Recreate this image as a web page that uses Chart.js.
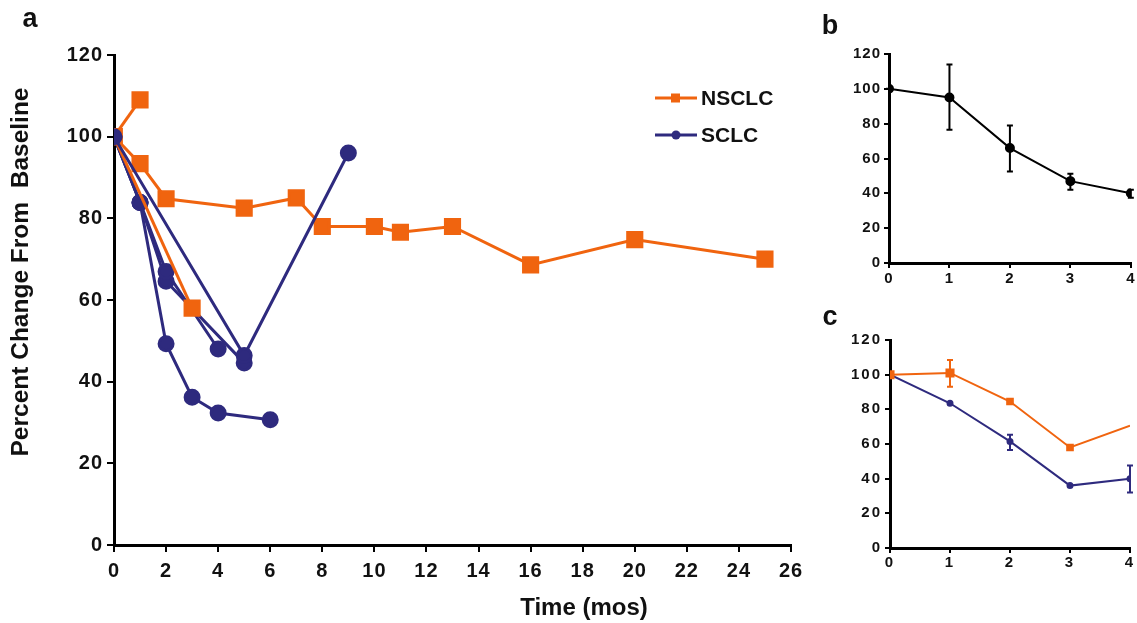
<!DOCTYPE html>
<html>
<head>
<meta charset="utf-8">
<script src="https://cdn.jsdelivr.net/npm/chart.js@4.4.1/dist/chart.umd.min.js"></script>
<style>
  body { margin: 0; background: #fff; width: 1137px; height: 623px; position: relative; overflow: hidden; }
  .box { position: absolute; }
</style>
</head>
<body>
<div class="box" style="left:0;top:0;width:810px;height:623px"><canvas id="panelA"></canvas></div>
<div class="box" style="left:820px;top:0;width:317px;height:300px"><canvas id="panelB"></canvas></div>
<div class="box" style="left:820px;top:300px;width:317px;height:323px"><canvas id="panelC"></canvas></div>
<script>
// panel a: individual patients, months vs percent of baseline
const nsclcMonths = [
  [0, 1],
  [0, 1, 2, 5, 7, 8, 10, 11, 13, 16, 20, 25],
  [0, 3],
];
const nsclcPct = [
  [100, 109],
  [100, 93.4, 84.8, 82.5, 85, 78, 78, 76.6, 78, 68.6, 74.8, 70],
  [100, 58],
];
const sclcMonths = [
  [0, 5, 9],
  [0, 1, 2, 3, 4, 6],
  [0, 1, 2, 4],
  [0, 1, 2, 5],
];
const sclcPct = [
  [100, 46.4, 96],
  [100, 83.9, 49.3, 36.2, 32.3, 30.7],
  [100, 83.9, 67, 48],
  [100, 83.9, 64.6, 44.6],
];

// panel b: mean with error bars
const bMonths = [0, 1, 2, 3, 4];
const bMean = [100, 95, 66, 47, 40];
const bHigh = [100, 114, 79, 51.2, 42];
const bLow = [100, 76.5, 52.5, 42, 37.5];

// panel c: mean by group
const cMonths = [0, 1, 2, 3, 4];
const cNsclc = [100, 101, 84.5, 58, 70.5];
const cNsclcHigh = [null, 108.5, null, null, null];
const cNsclcLow = [null, 93, null, null, null];
const cSclc = [100, 83.5, 61.5, 36, 40];
const cSclcHigh = [null, null, 65.3, null, 47.6];
const cSclcLow = [null, null, 56.6, null, 32];

const ORANGE = "#F0640F";
const NAVY = "#2E2A7E";
const FONT = "'Liberation Sans', Arial, Helvetica, sans-serif";

const toPoints = (xs, ys) => xs.map((x, i) => ({ x: x, y: ys[i] }));

// canvas letter spacing for the tick labels only (reset before the data is drawn)
const tickSpacing = {
  id: "tickSpacing",
  beforeDraw(chart, args, opts) {
    chart.ctx.letterSpacing = opts.px || "0px";
  },
  beforeDatasetsDraw(chart) {
    chart.ctx.letterSpacing = "0px";
  },
};

const errorBars = {
  id: "errorBars",
  afterDatasetsDraw(chart) {
    const ctx = chart.ctx;
    const y = chart.scales.y;
    chart.data.datasets.forEach((ds, di) => {
      if (!ds.errHigh) return;
      const meta = chart.getDatasetMeta(di);
      ctx.save();
      ctx.strokeStyle = ds.borderColor;
      ctx.lineWidth = 2;
      meta.data.forEach((pt, i) => {
        if (ds.errHigh[i] == null) return;
        const top = y.getPixelForValue(ds.errHigh[i]);
        const bot = y.getPixelForValue(ds.errLow[i]);
        ctx.beginPath();
        ctx.moveTo(pt.x, top); ctx.lineTo(pt.x, bot);
        ctx.moveTo(pt.x - 3, top); ctx.lineTo(pt.x + 3, top);
        ctx.moveTo(pt.x - 3, bot); ctx.lineTo(pt.x + 3, bot);
        ctx.stroke();
      });
      ctx.restore();
    });
  },
};

function panelLetter(text, x, y) {
  return {
    id: "letter" + text,
    afterDraw(chart) {
      const ctx = chart.ctx;
      ctx.save();
      ctx.font = "bold 27px " + FONT;
      ctx.fillStyle = "#111";
      ctx.textAlign = "center";
      ctx.textBaseline = "middle";
      ctx.fillText(text, x, y);
      ctx.restore();
    },
  };
}

const mainLabels = {
  id: "mainLabels",
  afterDraw(chart) {
    const ctx = chart.ctx;
    ctx.save();
    ctx.fillStyle = "#111";
    ctx.font = "bold 24px " + FONT;
    ctx.textAlign = "center";
    ctx.textBaseline = "middle";
    ctx.fillText("Time (mos)", 584, 608);
    ctx.translate(21, 272);
    ctx.rotate(-Math.PI / 2);
    ctx.font = "bold 24.5px " + FONT;
    ctx.fillText("Percent Change From  Baseline", 0, 0);
    ctx.restore();

    // legend
    const items = [
      { text: "NSCLC", color: ORANGE, style: "rect", y: 98 },
      { text: "SCLC", color: NAVY, style: "circle", y: 135 },
    ];
    items.forEach((it) => {
      ctx.save();
      ctx.strokeStyle = it.color;
      ctx.fillStyle = it.color;
      ctx.lineWidth = 3;
      ctx.beginPath();
      ctx.moveTo(655, it.y); ctx.lineTo(697, it.y);
      ctx.stroke();
      if (it.style === "rect") {
        ctx.fillRect(671, it.y - 4.5, 9, 9);
      } else {
        ctx.beginPath();
        ctx.arc(676, it.y, 4.5, 0, Math.PI * 2);
        ctx.fill();
      }
      ctx.fillStyle = "#111";
      ctx.font = "bold 21px " + FONT;
      ctx.textAlign = "left";
      ctx.textBaseline = "middle";
      ctx.fillText(it.text, 701, it.y + 1);
      ctx.restore();
    });
  },
};

function axisOpts(min, max, step, fontSize, tickLen, labelPad, extra) {
  return Object.assign({
    type: "linear",
    min: min,
    max: max,
    ticks: { stepSize: step, color: "#111", padding: labelPad, font: { family: FONT, size: fontSize, weight: "bold" } },
    grid: { display: true, drawOnChartArea: false, drawTicks: true, tickLength: tickLen, color: "#000", lineWidth: 2 },
    border: { display: true, color: "#000", width: 3 },
  }, extra || {});
}

// ---- panel a
const datasetsA = [];
sclcMonths.forEach((m, i) => {
  datasetsA.push({
    data: toPoints(m, sclcPct[i]),
    borderColor: NAVY, backgroundColor: NAVY,
    borderWidth: 3, pointStyle: "circle", pointRadius: 7, pointHoverRadius: 7,
    showLine: true, order: i === 0 ? 0 : 2,
  });
});
nsclcMonths.forEach((m, i) => {
  datasetsA.push({
    data: toPoints(m, nsclcPct[i]),
    borderColor: ORANGE, backgroundColor: ORANGE,
    borderWidth: 3, pointStyle: "rect", pointRadius: 10, pointHoverRadius: 10,
    showLine: true, order: i === 2 ? 1 : 3,
  });
});

new Chart(document.getElementById("panelA"), {
  type: "scatter",
  data: { datasets: datasetsA },
  options: {
    responsive: true, maintainAspectRatio: false, animation: false,
    layout: { padding: { top: 55, right: 19, left: 0, bottom: 0 } },
    scales: {
      x: axisOpts(0, 26, 2, 20, 7, 7, { afterFit: (s) => { s.height = 78; } }),
      y: axisOpts(0, 120, 20, 20, 7, 4, { afterFit: (s) => { s.width = 114; } }),
    },
    plugins: { legend: { display: false }, tooltip: { enabled: false }, tickSpacing: { px: "1px" } },
  },
  plugins: [tickSpacing, mainLabels, panelLetter("a", 30, 20)],
});

// ---- panel b
new Chart(document.getElementById("panelB"), {
  type: "scatter",
  data: {
    datasets: [{
      data: toPoints(bMonths, bMean),
      errHigh: bHigh, errLow: bLow,
      borderColor: "#000", backgroundColor: "#000",
      borderWidth: 2, pointRadius: 4, showLine: true,
    }],
  },
  options: {
    responsive: true, maintainAspectRatio: false, animation: false,
    layout: { padding: { top: 54, right: 6, left: 0, bottom: 0 } },
    scales: {
      x: axisOpts(0, 4, 1, 15, 5, 2, { afterFit: (s) => { s.height = 37; } }),
      y: axisOpts(0, 120, 20, 15, 5, 3, { afterFit: (s) => { s.width = 69; } }),
    },
    plugins: { legend: { display: false }, tooltip: { enabled: false }, tickSpacing: { px: "1px" } },
  },
  plugins: [tickSpacing, errorBars, panelLetter("b", 10, 27)],
});

// ---- panel c
new Chart(document.getElementById("panelC"), {
  type: "scatter",
  data: {
    datasets: [
      {
        data: toPoints(cMonths, cNsclc),
        errHigh: cNsclcHigh, errLow: cNsclcLow,
        borderColor: ORANGE, backgroundColor: ORANGE,
        borderWidth: 2, pointStyle: "rect", pointRadius: [5, 5, 4, 4, 0], showLine: true,
      },
      {
        data: toPoints(cMonths, cSclc),
        errHigh: cSclcHigh, errLow: cSclcLow,
        borderColor: NAVY, backgroundColor: NAVY,
        borderWidth: 2, pointStyle: "circle", pointRadius: 2.5, showLine: true,
      },
    ],
  },
  options: {
    responsive: true, maintainAspectRatio: false, animation: false,
    layout: { padding: { top: 40, right: 6, left: 0, bottom: 0 } },
    scales: {
      x: axisOpts(0, 4, 1, 15, 5, 1, { afterFit: (s) => { s.height = 75; } }),
      y: axisOpts(0, 120, 20, 15, 5, 3, { afterFit: (s) => { s.width = 70; } }),
    },
    plugins: { legend: { display: false }, tooltip: { enabled: false }, tickSpacing: { px: "2px" } },
  },
  plugins: [tickSpacing, errorBars, panelLetter("c", 10, 18)],
});
</script>
</body>
</html>
